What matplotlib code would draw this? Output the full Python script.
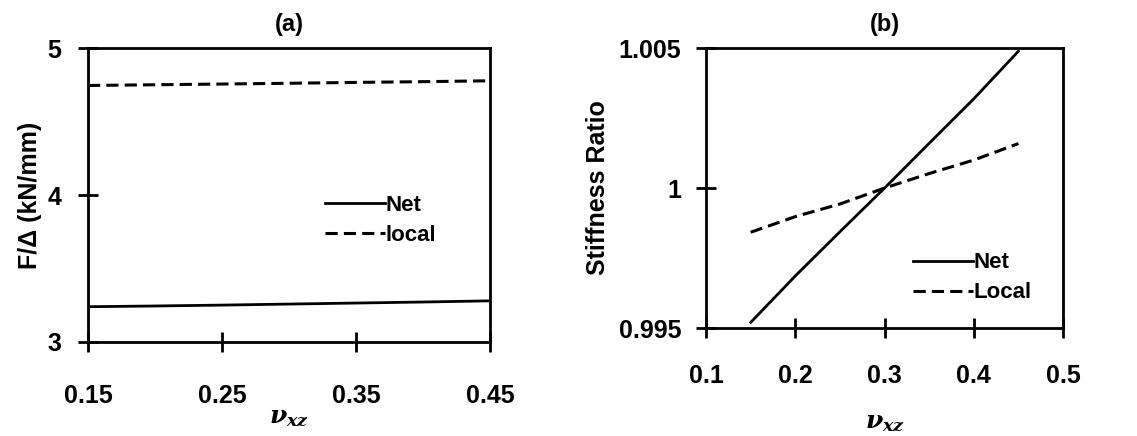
import matplotlib
matplotlib.use('Agg')
import matplotlib.pyplot as plt

plt.rcParams['font.family'] = ['Liberation Sans', 'DejaVu Sans']
plt.rcParams['font.weight'] = 'bold'
plt.rcParams['axes.titleweight'] = 'bold'
plt.rcParams['axes.labelweight'] = 'bold'
plt.rcParams['mathtext.fontset'] = 'dejavuserif'

# Panel (a): stiffness F/Delta vs Poisson ratio
nu = [0.15, 0.20, 0.25, 0.30, 0.35, 0.40, 0.45]
net_a = [3.240, 3.245, 3.251, 3.258, 3.265, 3.272, 3.280]
local_a = [4.745, 4.750, 4.755, 4.760, 4.766, 4.771, 4.777]

# Panel (b): stiffness ratio vs Poisson ratio
net_b = [0.99520, 0.99686, 0.99844, 1.00000, 1.00160, 1.00319, 1.00489]
local_b = [0.99842, 0.99898, 0.99943, 1.00000, 1.00052, 1.00100, 1.00159]

fig = plt.figure(figsize=(11.37, 4.36), dpi=100)
ax1 = fig.add_axes([0.0774, 0.2156, 0.3536, 0.6743])
ax2 = fig.add_axes([0.621, 0.2477, 0.314, 0.642])

dash = (0, (4, 2))
for ax, net, loc, labels in [(ax1, net_a, local_a, ('Net', 'local')),
                             (ax2, net_b, local_b, ('Net', 'Local'))]:
    ax.plot(nu, net, color='black', lw=2, label=labels[0])
    ax.plot(nu, loc, color='black', lw=2.2, linestyle=dash, label=labels[1])
    for s in ax.spines.values():
        s.set_linewidth(2)
    ax.tick_params(direction='inout', length=14, width=2, labelsize=18)

ax1.set_xlim(0.15, 0.45)
ax1.set_ylim(3, 5)
ax1.set_xticks([0.15, 0.25, 0.35, 0.45])
ax1.set_xticklabels(['0.15', '0.25', '0.35', '0.45'])
ax1.set_yticks([3, 4, 5])
ax1.tick_params(axis='x', pad=23)
ax1.tick_params(axis='y', pad=12)
ax1.set_title('(a)', fontsize=17, pad=12)
ax1.set_ylabel('F/Δ (kN/mm)', fontsize=18, labelpad=4)
ax1.set_xlabel(r'$\nu_{xz}$', fontsize=18, labelpad=-2)
ax1.legend(loc='upper left', bbox_to_anchor=(0.59, 0.50), frameon=False,
           prop={'size': 16, 'weight': 'bold'}, handlelength=2.7,
           handletextpad=0.0, labelspacing=0.4, borderpad=0, borderaxespad=0)

ax2.set_xlim(0.1, 0.5)
ax2.set_ylim(0.995, 1.005)
ax2.set_xticks([0.1, 0.2, 0.3, 0.4, 0.5])
ax2.set_xticklabels(['0.1', '0.2', '0.3', '0.4', '0.5'])
ax2.set_yticks([0.995, 1.0, 1.005])
ax2.set_yticklabels(['0.995', '1', '1.005'])
ax2.tick_params(axis='x', pad=19)
ax2.tick_params(axis='y', pad=11)
ax2.set_title('(b)', fontsize=17, pad=12)
ax2.set_ylabel('Stiffness Ratio', fontsize=18, labelpad=6)
ax2.set_xlabel(r'$\nu_{xz}$', fontsize=18, labelpad=16)
ax2.legend(loc='upper left', bbox_to_anchor=(0.58, 0.27), frameon=False,
           prop={'size': 16, 'weight': 'bold'}, handlelength=2.7,
           handletextpad=0.0, labelspacing=0.4, borderpad=0, borderaxespad=0)

fig.savefig('out.png', dpi=100)
